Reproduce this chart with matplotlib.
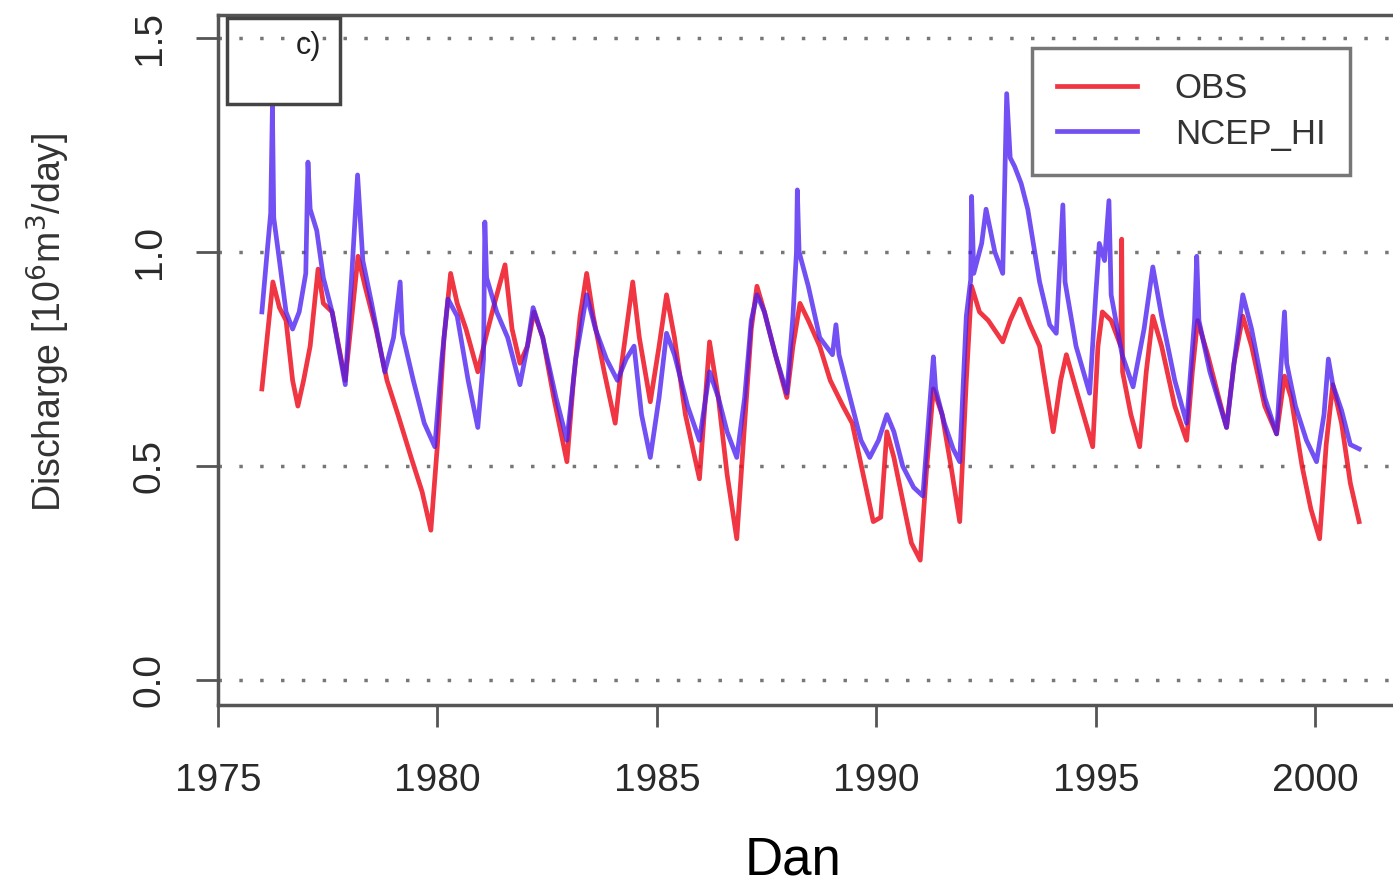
import matplotlib.pyplot as plt
from matplotlib.patches import Rectangle

plt.rcParams['font.family'] = ['Liberation Sans', 'DejaVu Sans']

# OBS series (year, discharge)
obs_year = [1976.00, 1976.12, 1976.25, 1976.40, 1976.55, 1976.70, 1976.82, 1976.95,
            1977.10, 1977.28, 1977.40, 1977.60, 1977.90, 1978.05, 1978.19, 1978.35,
            1978.60, 1978.85, 1979.10, 1979.40, 1979.65, 1979.85, 1980.00, 1980.15,
            1980.30, 1980.45, 1980.65, 1980.92, 1981.10, 1981.30, 1981.54, 1981.70,
            1981.88, 1982.05, 1982.20, 1982.40, 1982.65, 1982.95, 1983.10, 1983.25,
            1983.40, 1983.55, 1983.80, 1984.05, 1984.20, 1984.45, 1984.60, 1984.85,
            1985.05, 1985.22, 1985.40, 1985.65, 1985.97, 1986.10, 1986.20, 1986.40,
            1986.60, 1986.82, 1987.00, 1987.15, 1987.28, 1987.45, 1987.70, 1987.96,
            1988.10, 1988.26, 1988.45, 1988.71, 1988.95, 1989.24, 1989.45, 1989.70,
            1989.93, 1990.10, 1990.24, 1990.40, 1990.60, 1990.80, 1991.00, 1991.15,
            1991.30, 1991.50, 1991.70, 1991.90, 1992.05, 1992.17, 1992.35, 1992.55,
            1992.88, 1993.05, 1993.27, 1993.50, 1993.72, 1994.03, 1994.20, 1994.33,
            1994.55, 1994.93, 1995.05, 1995.15, 1995.35, 1995.57, 1995.59, 1995.61,
            1995.80, 1996.00, 1996.15, 1996.30, 1996.50, 1996.80, 1997.07, 1997.20,
            1997.32, 1997.55, 1997.80, 1997.98, 1998.15, 1998.35, 1998.55, 1998.85,
            1999.12, 1999.30, 1999.45, 1999.70, 1999.90, 2000.10, 2000.25, 2000.40,
            2000.60, 2000.80, 2001.00]
obs_q = [0.68, 0.80, 0.93, 0.87, 0.84, 0.70, 0.64, 0.70,
         0.78, 0.96, 0.88, 0.86, 0.70, 0.85, 0.99, 0.92,
         0.82, 0.70, 0.62, 0.52, 0.44, 0.35, 0.55, 0.80,
         0.95, 0.88, 0.82, 0.72, 0.80, 0.88, 0.97, 0.82,
         0.74, 0.78, 0.86, 0.80, 0.66, 0.51, 0.70, 0.85,
         0.95, 0.85, 0.72, 0.60, 0.74, 0.93, 0.80, 0.65,
         0.78, 0.90, 0.80, 0.62, 0.47, 0.65, 0.79, 0.66,
         0.48, 0.33, 0.60, 0.82, 0.92, 0.86, 0.76, 0.66,
         0.78, 0.88, 0.84, 0.78, 0.70, 0.64, 0.60, 0.48,
         0.37, 0.38, 0.58, 0.52, 0.42, 0.32, 0.28, 0.50,
         0.68, 0.62, 0.50, 0.37, 0.70, 0.92, 0.86, 0.84,
         0.79, 0.84, 0.89, 0.83, 0.78, 0.58, 0.70, 0.76,
         0.68, 0.545, 0.78, 0.86, 0.84, 0.78, 1.03, 0.72,
         0.62, 0.545, 0.72, 0.85, 0.78, 0.64, 0.56, 0.72,
         0.84, 0.76, 0.66, 0.59, 0.74, 0.85, 0.78, 0.64,
         0.575, 0.71, 0.66, 0.50, 0.40, 0.33, 0.55, 0.69,
         0.60, 0.46, 0.37]

# NCEP_HI series
ncep_year = [1976.00, 1976.12, 1976.20, 1976.24, 1976.27, 1976.40, 1976.55, 1976.70,
             1976.85, 1977.00, 1977.05, 1977.10, 1977.25, 1977.40, 1977.60, 1977.90,
             1978.05, 1978.18, 1978.30, 1978.50, 1978.80, 1979.00, 1979.15, 1979.20,
             1979.45, 1979.70, 1979.94, 1980.10, 1980.24, 1980.45, 1980.70, 1980.92,
             1981.05, 1981.08, 1981.12, 1981.35, 1981.60, 1981.88, 1982.05, 1982.18,
             1982.40, 1982.70, 1982.95, 1983.15, 1983.40, 1983.60, 1983.85, 1984.10,
             1984.30, 1984.48, 1984.65, 1984.85, 1985.05, 1985.22, 1985.40, 1985.70,
             1985.97, 1986.20, 1986.40, 1986.60, 1986.82, 1987.00, 1987.15, 1987.28,
             1987.45, 1987.70, 1987.96, 1988.10, 1988.18, 1988.20, 1988.24, 1988.45,
             1988.71, 1989.00, 1989.08, 1989.15, 1989.40, 1989.65, 1989.85, 1990.05,
             1990.24, 1990.40, 1990.60, 1990.85, 1991.06, 1991.20, 1991.30, 1991.35,
             1991.55, 1991.75, 1991.90, 1992.05, 1992.15, 1992.17, 1992.22, 1992.40,
             1992.50, 1992.70, 1992.88, 1992.97, 1993.05, 1993.15, 1993.30, 1993.45,
             1993.72, 1993.95, 1994.10, 1994.25, 1994.30, 1994.55, 1994.86, 1995.00,
             1995.08, 1995.20, 1995.30, 1995.35, 1995.60, 1995.85, 1996.10, 1996.30,
             1996.50, 1996.80, 1997.07, 1997.25, 1997.30, 1997.35, 1997.60, 1997.98,
             1998.15, 1998.35, 1998.55, 1998.85, 1999.12, 1999.25, 1999.30, 1999.35,
             1999.55, 1999.80, 2000.03, 2000.20, 2000.30, 2000.40, 2000.60, 2000.80,
             2001.00]
ncep_q = [0.86, 1.00, 1.09, 1.34, 1.08, 0.98, 0.86, 0.82,
          0.86, 0.95, 1.21, 1.10, 1.05, 0.94, 0.86, 0.69,
          0.95, 1.18, 0.98, 0.88, 0.72, 0.80, 0.93, 0.81,
          0.70, 0.60, 0.545, 0.75, 0.89, 0.85, 0.70, 0.59,
          0.75, 1.07, 0.94, 0.86, 0.80, 0.69, 0.78, 0.87,
          0.80, 0.66, 0.56, 0.75, 0.90, 0.82, 0.75, 0.70,
          0.75, 0.78, 0.62, 0.52, 0.66, 0.81, 0.76, 0.64,
          0.56, 0.72, 0.66, 0.58, 0.52, 0.66, 0.84, 0.90,
          0.86, 0.76, 0.67, 0.85, 1.00, 1.145, 1.00, 0.92,
          0.80, 0.76, 0.83, 0.76, 0.66, 0.56, 0.52, 0.56,
          0.62, 0.58, 0.50, 0.45, 0.43, 0.62, 0.755, 0.68,
          0.60, 0.54, 0.51, 0.85, 0.935, 1.13, 0.95, 1.02,
          1.10, 1.00, 0.95, 1.37, 1.22, 1.20, 1.16, 1.10,
          0.93, 0.83, 0.81, 1.11, 0.93, 0.78, 0.67, 0.90,
          1.02, 0.98, 1.12, 0.90, 0.76, 0.685, 0.82, 0.965,
          0.85, 0.70, 0.60, 0.84, 0.99, 0.84, 0.72, 0.59,
          0.74, 0.90, 0.82, 0.66, 0.575, 0.78, 0.86, 0.74,
          0.64, 0.56, 0.51, 0.62, 0.75, 0.69, 0.63, 0.55,
          0.54]

y_ticks = [0.0, 0.5, 1.0, 1.5]
x_ticks = [1975, 1980, 1985, 1990, 1995, 2000]

fig = plt.figure(figsize=(13.93, 8.88), dpi=100)
ax = fig.add_axes([218 / 1393, 183 / 888, 1185 / 1393, 690 / 888])

# dotted reference lines
for yv in y_ticks:
    ax.axhline(yv, color='#777777', linestyle=(0, (1, 5)), linewidth=2.5, zorder=1)

ax.plot(obs_year, obs_q, color='#ee1122', linewidth=3.4, alpha=0.85, label='OBS', zorder=2)
ax.plot(ncep_year, ncep_q, color='#4a1ff0', linewidth=3.4, alpha=0.78, label='NCEP_HI', zorder=3)

ax.set_xlim(1975, 2002)
ax.set_ylim(-0.0584, 1.5537)
ax.set_xticks(x_ticks)
ax.set_yticks(y_ticks)
ax.set_yticklabels(['0.0', '0.5', '1.0', '1.5'], rotation=90, va='center')
ax.tick_params(axis='both', length=16, width=2, color='#555555',
               labelsize=28, labelcolor='#2a2a2a')
ax.tick_params(axis='x', pad=26)
ax.tick_params(axis='y', pad=20)

for side in ['left', 'bottom', 'top', 'right']:
    ax.spines[side].set_color('#555555')
    ax.spines[side].set_linewidth(2.5)

# panel tag box
ax.add_patch(Rectangle((0.008, 0.871), 0.095, 0.125, transform=ax.transAxes,
                       fill=False, edgecolor='#444444', linewidth=2.5, zorder=5))
ax.text(0.087, 0.955, 'c)', transform=ax.transAxes, ha='right', va='center',
        fontsize=22, color='#222222', zorder=6)

leg = ax.legend(loc='upper right', bbox_to_anchor=(0.955, 0.952), fontsize=25,
                frameon=True, fancybox=False, edgecolor='#555555', borderaxespad=0,
                handlelength=2.3, borderpad=0.7, labelspacing=0.35, handletextpad=1.1)
leg.get_frame().set_linewidth(2.5)
for t in leg.get_texts():
    t.set_color('#333333')

fig.text(48 / 1393, 1 - 322 / 888, 'Discharge [10$^6$m$^3$/day]', rotation=90,
         ha='center', va='center', fontsize=27, color='#333333')
fig.text(793 / 1393, 1 - 860 / 888, 'Dan', ha='center', va='center', fontsize=38)

fig.savefig('out.png', dpi=100)
